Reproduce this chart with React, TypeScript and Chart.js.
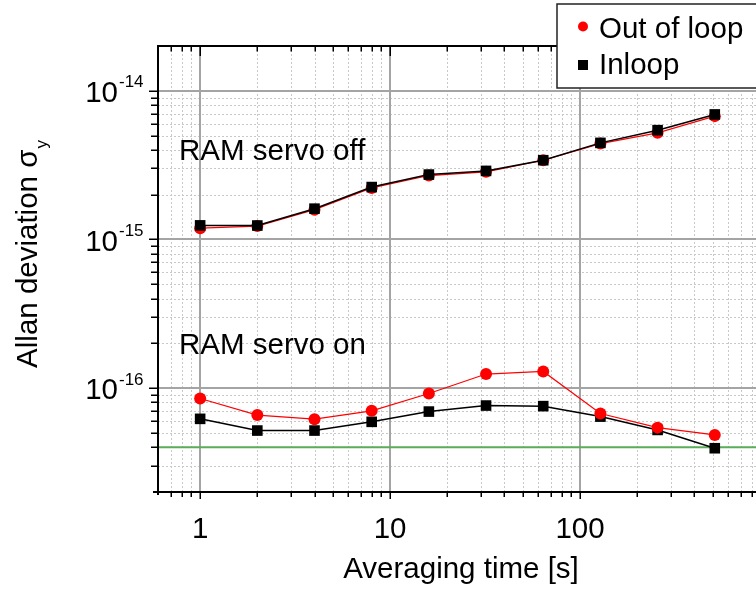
import React, { useEffect, useRef } from "react";
import { Chart, registerables } from "chart.js";

Chart.register(...registerables);

// ---- data ----
const tau = [1, 2, 4, 8, 16, 32, 64, 128, 256, 512];
const outOfLoopServoOff = [1.19e-15, 1.23e-15, 1.585e-15, 2.22e-15, 2.69e-15, 2.85e-15, 3.41e-15, 4.41e-15, 5.21e-15, 6.75e-15];
const inloopServoOff = [1.243e-15, 1.24e-15, 1.61e-15, 2.25e-15, 2.73e-15, 2.89e-15, 3.41e-15, 4.46e-15, 5.43e-15, 6.93e-15];
const outOfLoopServoOn = [8.51e-17, 6.58e-17, 6.18e-17, 7.03e-17, 9.19e-17, 1.243e-16, 1.294e-16, 6.74e-17, 5.42e-17, 4.84e-17];
const inloopServoOn = [6.21e-17, 5.18e-17, 5.18e-17, 5.93e-17, 6.95e-17, 7.63e-17, 7.56e-17, 6.43e-17, 5.23e-17, 3.94e-17];
const floorLevel = 4e-17;
const floorSpan = [0.6, 1000];
const xRange = [0.6, 1000];
const yRange = [2e-17, 2e-14];
const xTickLabels = [1, 10, 100];
const yTickExponents = [-16, -15, -14];
const legendLabels = ["Out of loop", "Inloop"];
const annotations = ["RAM servo off", "RAM servo on"];

const FONT = "'Liberation Sans', Arial, sans-serif";

const pts = (ys: number[]) => tau.map((t, i) => ({ x: t, y: ys[i] }));

function minorValues(min: number, max: number) {
  const minors: number[] = [];
  const majors: number[] = [];
  for (let e = -20; e <= 5; e++) {
    const d = Math.pow(10, e);
    if (d >= min * 0.9999 && d <= max * 1.0001) majors.push(d);
    for (let k = 2; k <= 9; k++) {
      const v = k * d;
      if (v > min * 1.0001 && v < max * 0.9999) minors.push(v);
    }
  }
  return { minors, majors };
}

const decoPlugin = {
  id: "deco",
  beforeDatasetsDraw(chart: any) {
    const { ctx, chartArea } = chart;
    const { left, right, top, bottom } = chartArea;
    const xs = chart.scales.x;
    const ys = chart.scales.y;
    const xv = minorValues(xRange[0], xRange[1]);
    const yv = minorValues(yRange[0], yRange[1]);
    ctx.save();
    ctx.beginPath();
    ctx.rect(left, top, right - left, bottom - top);
    ctx.clip();
    // minor grid
    ctx.strokeStyle = "#c8c8c8";
    ctx.lineWidth = 1;
    ctx.setLineDash([2, 2]);
    xv.minors.forEach((v) => {
      const p = Math.round(xs.getPixelForValue(v)) + 0.5;
      ctx.beginPath();
      ctx.moveTo(p, top);
      ctx.lineTo(p, bottom);
      ctx.stroke();
    });
    yv.minors.forEach((v) => {
      const p = Math.round(ys.getPixelForValue(v)) + 0.5;
      ctx.beginPath();
      ctx.moveTo(left, p);
      ctx.lineTo(right, p);
      ctx.stroke();
    });
    // major grid
    ctx.setLineDash([]);
    ctx.strokeStyle = "#a4a4a4";
    ctx.lineWidth = 2;
    xv.majors.forEach((v) => {
      const p = Math.round(xs.getPixelForValue(v));
      ctx.beginPath();
      ctx.moveTo(p, top);
      ctx.lineTo(p, bottom);
      ctx.stroke();
    });
    yv.majors.forEach((v) => {
      const p = Math.round(ys.getPixelForValue(v));
      ctx.beginPath();
      ctx.moveTo(left, p);
      ctx.lineTo(right, p);
      ctx.stroke();
    });
    ctx.restore();
  },
  afterDraw(chart: any) {
    const { ctx, chartArea } = chart;
    const { left, right, top, bottom } = chartArea;
    const xs = chart.scales.x;
    const ys = chart.scales.y;
    const xv = minorValues(xRange[0], xRange[1]);
    const yv = minorValues(yRange[0], yRange[1]);
    ctx.save();
    // axes lines
    ctx.strokeStyle = "#000";
    ctx.lineWidth = 2;
    ctx.beginPath();
    ctx.moveTo(left - 5, bottom);
    ctx.lineTo(right, bottom);
    ctx.moveTo(left, top - 1);
    ctx.lineTo(left, bottom + 3);
    ctx.moveTo(left - 1, top);
    ctx.lineTo(right, top);
    ctx.stroke();
    // ticks
    ctx.lineWidth = 1.5;
    ctx.beginPath();
    const xall = [...xv.minors.map((v) => [v, 0]), ...xv.majors.map((v) => [v, 1])];
    xall.forEach(([v, major]) => {
      const p = Math.round(xs.getPixelForValue(v)) + 0.25;
      // bottom, outward
      ctx.moveTo(p, bottom - 1);
      ctx.lineTo(p, bottom + (major ? 7 : 5));
      // top, inward
      ctx.moveTo(p, top);
      ctx.lineTo(p, top + (major ? 10 : 5.5));
    });
    const yall = [...yv.minors.map((v) => [v, 0]), ...yv.majors.map((v) => [v, 1])];
    yall.forEach(([v, major]) => {
      const p = Math.round(ys.getPixelForValue(v)) + 0.25;
      ctx.moveTo(left + 1, p);
      ctx.lineTo(left - (major ? 9 : 7), p);
    });
    ctx.stroke();

    ctx.fillStyle = "#000";
    // x tick labels
    ctx.font = `29.5px ${FONT}`;
    ctx.textAlign = "center";
    ctx.textBaseline = "alphabetic";
    xTickLabels.forEach((v) => {
      ctx.fillText(String(v), xs.getPixelForValue(v), 538);
    });
    // y tick labels with superscript
    yTickExponents.forEach((e) => {
      const py = ys.getPixelForValue(Math.pow(10, e));
      ctx.font = `29.5px ${FONT}`;
      ctx.textAlign = "right";
      ctx.fillText("10", 118, py + 11.25);
      ctx.font = `17px ${FONT}`;
      ctx.textAlign = "left";
      ctx.fillText(String(e), 119, py - 3.5);
    });
    // x title
    ctx.font = `29.5px ${FONT}`;
    ctx.textAlign = "center";
    ctx.fillText("Averaging time [s]", 461, 578);
    // y title
    ctx.save();
    ctx.translate(36.5, 254);
    ctx.rotate(-Math.PI / 2);
    ctx.font = `29.5px ${FONT}`;
    const mainT = "Allan deviation σ";
    const wm = ctx.measureText(mainT).width;
    ctx.font = `17px ${FONT}`;
    const wsub = ctx.measureText("y").width;
    const total = wm + wsub + 1;
    ctx.textAlign = "left";
    ctx.font = `29.5px ${FONT}`;
    ctx.fillText(mainT, -total / 2, 0);
    ctx.font = `17px ${FONT}`;
    ctx.fillText("y", -total / 2 + wm + 1, 10);
    ctx.restore();
    // annotations
    ctx.font = `29.5px ${FONT}`;
    ctx.textAlign = "left";
    ctx.fillText(annotations[0], 179, 160);
    ctx.fillText(annotations[1], 179, 354);
    // legend
    ctx.fillStyle = "#fff";
    ctx.fillRect(557, 4, 300, 84);
    ctx.strokeStyle = "#222";
    ctx.lineWidth = 1.5;
    ctx.strokeRect(557, 4, 300, 84);
    ctx.fillStyle = "#ff0000";
    ctx.beginPath();
    ctx.arc(583, 26.5, 5, 0, Math.PI * 2);
    ctx.fill();
    ctx.fillStyle = "#000";
    ctx.fillRect(578, 60, 10, 10);
    ctx.font = `29.5px ${FONT}`;
    ctx.fillText(legendLabels[0], 599, 38);
    ctx.fillText(legendLabels[1], 599, 74);
    ctx.restore();
  },
};

export default function App() {
  const ref = useRef<HTMLCanvasElement | null>(null);
  useEffect(() => {
    if (!ref.current) return;
    const chart = new Chart(ref.current, {
      type: "line",
      data: {
        datasets: [
          {
            label: legendLabels[1],
            data: pts(inloopServoOff),
            borderColor: "#000",
            backgroundColor: "#000",
            borderWidth: 1.5,
            pointStyle: "rect",
            pointRadius: 7.5,
            pointBorderWidth: 0,
          },
          {
            label: legendLabels[0],
            data: pts(outOfLoopServoOff),
            borderColor: "#ff0000",
            backgroundColor: "#ff0000",
            borderWidth: 1.2,
            pointStyle: "circle",
            pointRadius: 6,
            pointBorderWidth: 0,
          },
          {
            label: legendLabels[0] + " (servo on)",
            data: pts(outOfLoopServoOn),
            borderColor: "#ff0000",
            backgroundColor: "#ff0000",
            borderWidth: 1.2,
            pointStyle: "circle",
            pointRadius: 6,
            pointBorderWidth: 0,
          },
          {
            label: legendLabels[1] + " (servo on)",
            data: pts(inloopServoOn),
            borderColor: "#000",
            backgroundColor: "#000",
            borderWidth: 1.5,
            pointStyle: "rect",
            pointRadius: 7.5,
            pointBorderWidth: 0,
          },
          {
            label: "floor",
            data: floorSpan.map((x) => ({ x, y: floorLevel })),
            borderColor: "#5aad5a",
            borderWidth: 2,
            pointRadius: 0,
          },
        ],
      },
      options: {
        animation: false,
        responsive: false,
        maintainAspectRatio: false,
        devicePixelRatio: 1,
        layout: { padding: { top: 46, right: 30, left: 0, bottom: 0 } },
        plugins: { legend: { display: false }, tooltip: { enabled: false } },
        scales: {
          x: {
            type: "logarithmic",
            min: xRange[0],
            max: xRange[1],
            bounds: "data",
            ticks: { display: false },
            grid: { display: false },
            border: { display: false },
            afterFit: (s: any) => {
              s.height = 98;
            },
          },
          y: {
            type: "logarithmic",
            min: yRange[0],
            max: yRange[1],
            bounds: "data",
            ticks: { display: false },
            grid: { display: false },
            border: { display: false },
            afterFit: (s: any) => {
              s.width = 158;
            },
          },
        },
      },
      plugins: [decoPlugin],
    } as any);
    return () => chart.destroy();
  }, []);
  return (
    <div style={{ position: "absolute", left: 0, top: 0, width: 756, height: 590, overflow: "hidden", background: "#fff" }}>
      <canvas ref={ref} width={800} height={590} style={{ width: 800, height: 590, display: "block" }} />
    </div>
  );
}
